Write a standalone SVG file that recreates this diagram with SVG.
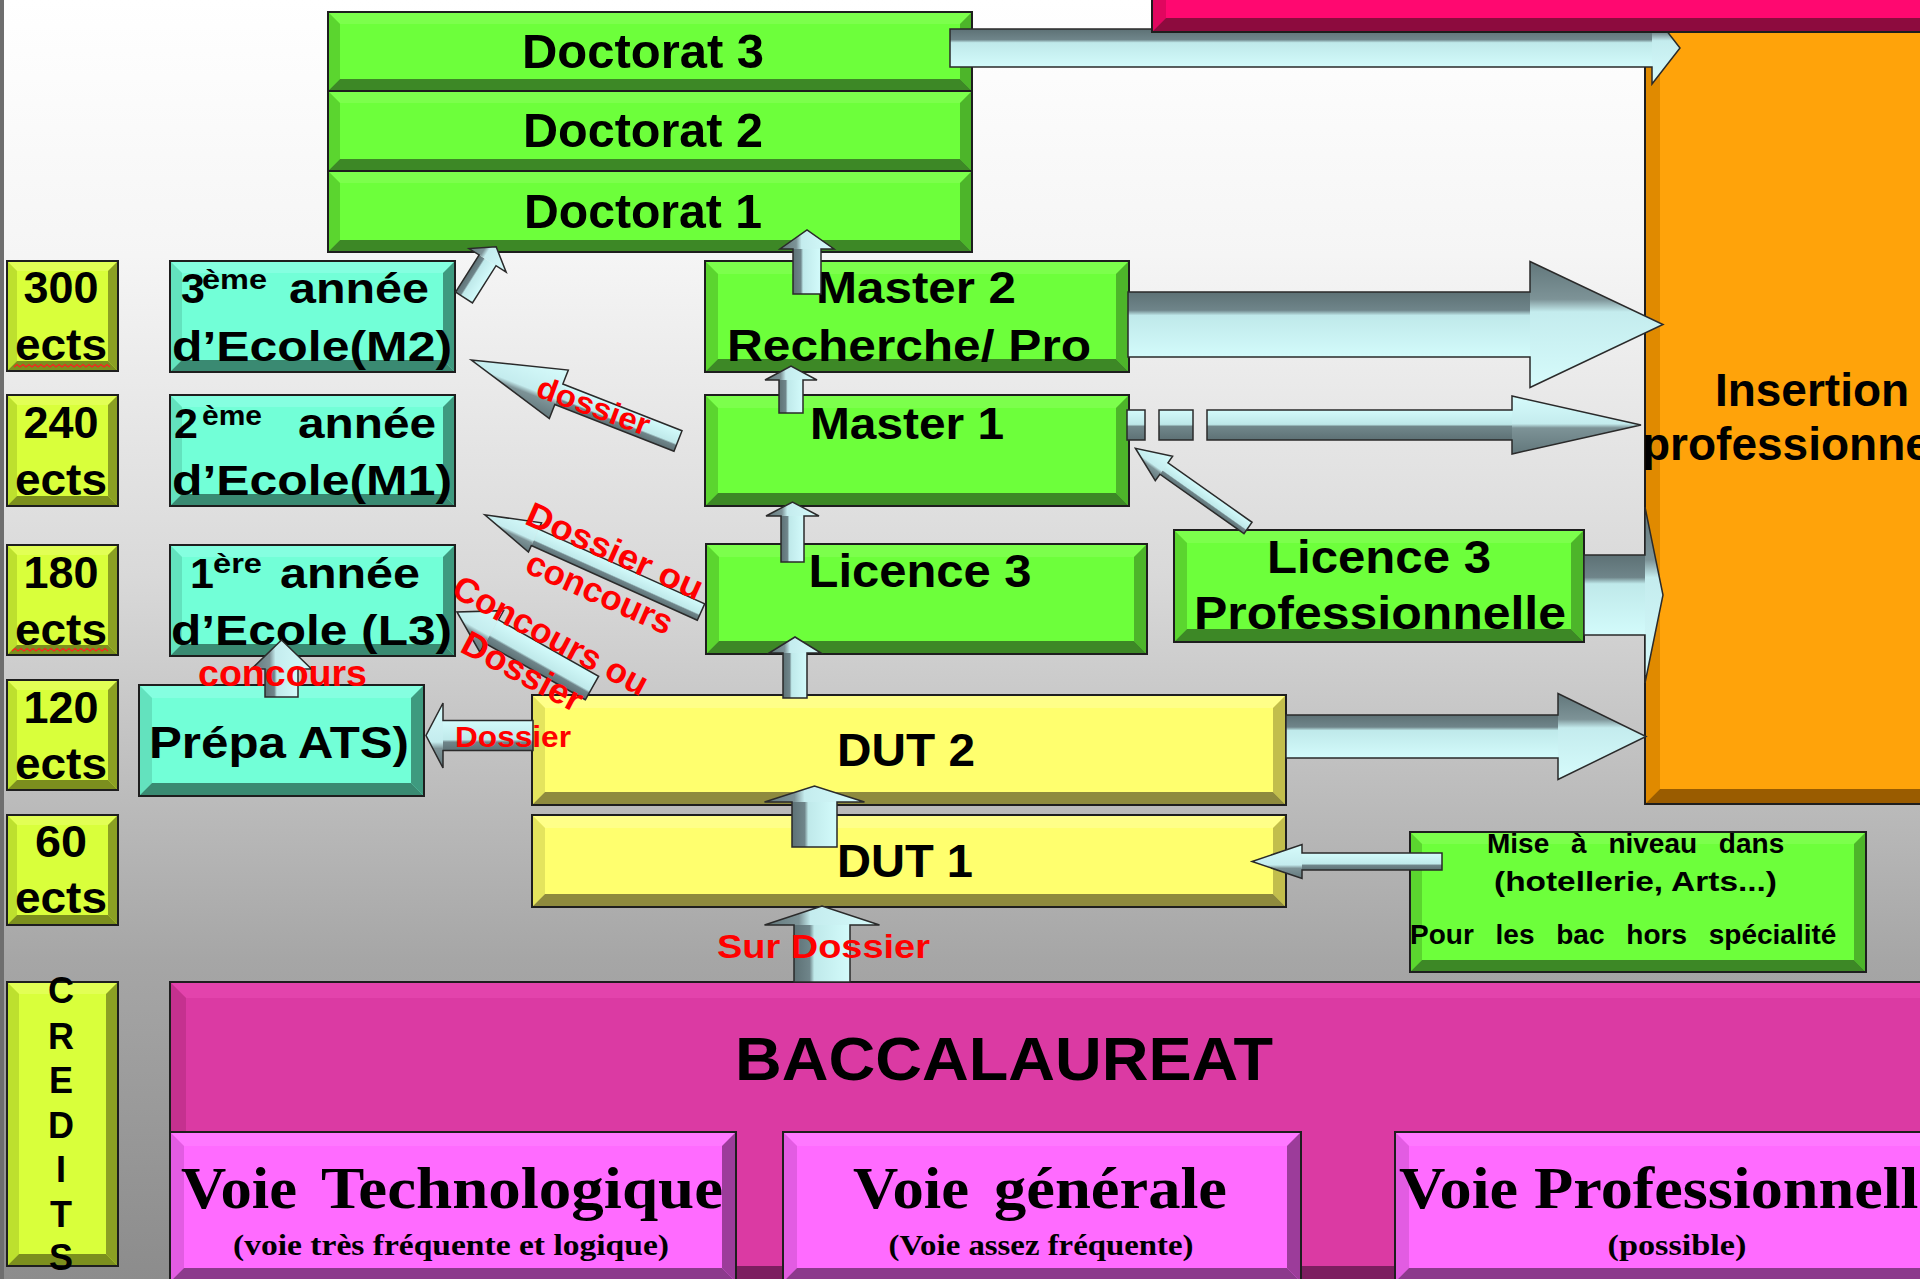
<svg xmlns="http://www.w3.org/2000/svg" width="1920" height="1279" viewBox="0 0 1920 1279">
<defs>
<linearGradient id="bg" x1="0" y1="0" x2="0" y2="1">
<stop offset="0" stop-color="#ffffff"/><stop offset="0.2" stop-color="#f5f5f5"/><stop offset="0.45" stop-color="#d9d9d9"/><stop offset="0.75" stop-color="#a6a6a6"/><stop offset="1" stop-color="#8c8c8c"/>
</linearGradient>
<linearGradient id="gB" x1="0" y1="0" x2="0" y2="1">
<stop offset="0" stop-color="#5d7175"/><stop offset="0.28" stop-color="#6f858a"/><stop offset="0.36" stop-color="#bfe9ea"/><stop offset="1" stop-color="#d3fbfb"/>
</linearGradient>
<linearGradient id="gH" x1="0" y1="0" x2="0" y2="1">
<stop offset="0" stop-color="#62777b"/><stop offset="0.3" stop-color="#7d9397"/><stop offset="0.4" stop-color="#c4ecee"/><stop offset="1" stop-color="#d6fbfb"/>
</linearGradient>
<linearGradient id="gBF" x1="0" y1="0" x2="0" y2="1">
<stop offset="0" stop-color="#d3fbfb"/><stop offset="0.48" stop-color="#bde7e8"/><stop offset="0.55" stop-color="#71878b"/><stop offset="1" stop-color="#5d7175"/>
</linearGradient>
<linearGradient id="gHF" x1="0" y1="0" x2="0" y2="1">
<stop offset="0" stop-color="#d6fbfb"/><stop offset="0.48" stop-color="#c4ecee"/><stop offset="0.55" stop-color="#7d9397"/><stop offset="1" stop-color="#62777b"/>
</linearGradient>
<style>
.f{font-family:'Liberation Sans',Arial,sans-serif;font-weight:bold;fill:#000}
.ser{font-family:'Liberation Serif','Times New Roman',serif;font-weight:bold;fill:#000}
.m{text-anchor:middle}
.red{fill:#ff0000}
.ol{fill:none;stroke:#1e1e1e;stroke-width:2}
.ao{fill:none;stroke:#2a2a2a;stroke-width:1.5}
.sq{stroke:#2a2a2a;stroke-width:1.5}
.gF{fill:#6dff3b}.gT{fill:#7cff4c}.gL{fill:#5bd52f}.gR{fill:#4db52a}.gBo{fill:#3d8826}
.yF{fill:#ffff6e}.yT{fill:#ffff88}.yL{fill:#e4e45e}.yR{fill:#c2be4c}.yB{fill:#8e8a3e}
.eF{fill:#d9ff3b}.eT{fill:#e2ff55}.eL{fill:#bde02e}.eR{fill:#8ba023}.eB{fill:#7c8f1e}
.cF{fill:#72ffd7}.cT{fill:#85ffe0}.cL{fill:#63e2be}.cR{fill:#3e9a7f}.cB{fill:#3a8a72}
.bF{fill:#db3aa3}.bT{fill:#e343ac}.bL{fill:#c5318f}.bB{fill:#7d1e60}
.pF{fill:#ff6bff}.pT{fill:#ff78ff}.pL{fill:#e25ce2}.pR{fill:#9c3c9a}.pB{fill:#8c3a8c}
.oF{fill:#ffa30a}.oL{fill:#e08a00}.oR{fill:#c07800}.oB{fill:#9a5c00}
.mF{fill:#ff0870}.mL{fill:#e0065f}.mR{fill:#b00550}.mB{fill:#8d0b3e}
</style>
</defs>

<rect x="0" y="0" width="1920" height="1279" fill="url(#bg)"/>
<rect x="0" y="0" width="4" height="1279" fill="#6e6e6e"/>

<g id="insertion">
<rect class="oF" x="1645" y="32" width="300" height="772"/>
<polygon class="oL" points="1645,32 1660,47 1660,789 1645,804"/>
<polygon class="oR" points="1945,32 1945,804 1930,789 1930,47"/>
<polygon class="oB" points="1645,804 1945,804 1930,789 1660,789"/>
<rect class="ol" x="1645" y="32" width="300" height="772"/>
</g>

<g id="doctorat3">
<rect class="gF" x="328" y="12" width="644" height="79"/>
<polygon class="gT" points="328,12 972,12 960,24 340,24"/>
<polygon class="gL" points="328,12 340,24 340,79 328,91"/>
<polygon class="gR" points="972,12 972,91 960,79 960,24"/>
<polygon class="gBo" points="328,91 972,91 960,79 340,79"/>
<rect class="ol" x="328" y="12" width="644" height="79"/>
<text class="f m" x="643" y="68" font-size="48" textLength="242" lengthAdjust="spacingAndGlyphs">Doctorat 3</text>
</g>
<g id="doctorat2">
<rect class="gF" x="328" y="91" width="644" height="80"/>
<polygon class="gT" points="328,91 972,91 960,103 340,103"/>
<polygon class="gL" points="328,91 340,103 340,159 328,171"/>
<polygon class="gR" points="972,91 972,171 960,159 960,103"/>
<polygon class="gBo" points="328,171 972,171 960,159 340,159"/>
<rect class="ol" x="328" y="91" width="644" height="80"/>
<text class="f m" x="643" y="147" font-size="48" textLength="240" lengthAdjust="spacingAndGlyphs">Doctorat 2</text>
</g>
<g id="doctorat1">
<rect class="gF" x="328" y="171" width="644" height="81"/>
<polygon class="gT" points="328,171 972,171 960,183 340,183"/>
<polygon class="gL" points="328,171 340,183 340,240 328,252"/>
<polygon class="gR" points="972,171 972,252 960,240 960,183"/>
<polygon class="gBo" points="328,252 972,252 960,240 340,240"/>
<rect class="ol" x="328" y="171" width="644" height="81"/>
<text class="f m" x="643" y="228" font-size="48" textLength="238" lengthAdjust="spacingAndGlyphs">Doctorat 1</text>
</g>

<g id="ects300">
<rect class="eF" x="7" y="261" width="111" height="110"/>
<polygon class="eT" points="7,261 118,261 108,271 17,271"/>
<polygon class="eL" points="7,261 17,271 17,361 7,371"/>
<polygon class="eR" points="118,261 118,371 108,361 108,271"/>
<polygon class="eB" points="7,371 118,371 108,361 17,361"/>
<rect class="ol" x="7" y="261" width="111" height="110"/>
<text class="f m" x="61" y="303" font-size="44" textLength="75" lengthAdjust="spacingAndGlyphs">300</text>
<text class="f m" x="61" y="360" font-size="44" textLength="92" lengthAdjust="spacingAndGlyphs">ects</text>
<path d="M14,367 l3,-2.5 l3,2.5 l3,-2.5 l3,2.5 l3,-2.5 l3,2.5 l3,-2.5 l3,2.5 l3,-2.5 l3,2.5 l3,-2.5 l3,2.5 l3,-2.5 l3,2.5 l3,-2.5 l3,2.5 l3,-2.5 l3,2.5 l3,-2.5 l3,2.5 l3,-2.5 l3,2.5 l3,-2.5 l3,2.5 l3,-2.5 l3,2.5 l3,-2.5 l3,2.5 l3,-2.5 l3,2.5 l3,-2.5 l3,2.5" fill="none" stroke="#ff2020" stroke-width="1.3"/>
</g>
<g id="ects240">
<rect class="eF" x="7" y="395" width="111" height="111"/>
<polygon class="eT" points="7,395 118,395 108,405 17,405"/>
<polygon class="eL" points="7,395 17,405 17,496 7,506"/>
<polygon class="eR" points="118,395 118,506 108,496 108,405"/>
<polygon class="eB" points="7,506 118,506 108,496 17,496"/>
<rect class="ol" x="7" y="395" width="111" height="111"/>
<text class="f m" x="61" y="438" font-size="44" textLength="75" lengthAdjust="spacingAndGlyphs">240</text>
<text class="f m" x="61" y="495" font-size="44" textLength="92" lengthAdjust="spacingAndGlyphs">ects</text>
</g>
<g id="ects180">
<rect class="eF" x="7" y="545" width="111" height="110"/>
<polygon class="eT" points="7,545 118,545 108,555 17,555"/>
<polygon class="eL" points="7,545 17,555 17,645 7,655"/>
<polygon class="eR" points="118,545 118,655 108,645 108,555"/>
<polygon class="eB" points="7,655 118,655 108,645 17,645"/>
<rect class="ol" x="7" y="545" width="111" height="110"/>
<text class="f m" x="61" y="588" font-size="44" textLength="75" lengthAdjust="spacingAndGlyphs">180</text>
<text class="f m" x="61" y="645" font-size="44" textLength="92" lengthAdjust="spacingAndGlyphs">ects</text>
<path d="M12,651 l3,-2.5 l3,2.5 l3,-2.5 l3,2.5 l3,-2.5 l3,2.5 l3,-2.5 l3,2.5 l3,-2.5 l3,2.5 l3,-2.5 l3,2.5 l3,-2.5 l3,2.5 l3,-2.5 l3,2.5 l3,-2.5 l3,2.5 l3,-2.5 l3,2.5 l3,-2.5 l3,2.5 l3,-2.5 l3,2.5 l3,-2.5 l3,2.5 l3,-2.5 l3,2.5 l3,-2.5 l3,2.5 l3,-2.5 l3,2.5" fill="none" stroke="#ff2020" stroke-width="1.3"/>
</g>
<g id="ects120">
<rect class="eF" x="7" y="680" width="111" height="110"/>
<polygon class="eT" points="7,680 118,680 108,690 17,690"/>
<polygon class="eL" points="7,680 17,690 17,780 7,790"/>
<polygon class="eR" points="118,680 118,790 108,780 108,690"/>
<polygon class="eB" points="7,790 118,790 108,780 17,780"/>
<rect class="ol" x="7" y="680" width="111" height="110"/>
<text class="f m" x="61" y="723" font-size="44" textLength="75" lengthAdjust="spacingAndGlyphs">120</text>
<text class="f m" x="61" y="779" font-size="44" textLength="92" lengthAdjust="spacingAndGlyphs">ects</text>
</g>
<g id="ects60">
<rect class="eF" x="7" y="815" width="111" height="110"/>
<polygon class="eT" points="7,815 118,815 108,825 17,825"/>
<polygon class="eL" points="7,815 17,825 17,915 7,925"/>
<polygon class="eR" points="118,815 118,925 108,915 108,825"/>
<polygon class="eB" points="7,925 118,925 108,915 17,915"/>
<rect class="ol" x="7" y="815" width="111" height="110"/>
<text class="f m" x="61" y="857" font-size="44" textLength="52" lengthAdjust="spacingAndGlyphs">60</text>
<text class="f m" x="61" y="913" font-size="44" textLength="92" lengthAdjust="spacingAndGlyphs">ects</text>
</g>
<g id="credits">
<rect class="eF" x="7" y="982" width="111" height="284"/>
<polygon class="eT" points="7,982 118,982 106,994 19,994"/>
<polygon class="eL" points="7,982 19,994 19,1254 7,1266"/>
<polygon class="eR" points="118,982 118,1266 106,1254 106,994"/>
<polygon class="eB" points="7,1266 118,1266 106,1254 19,1254"/>
<rect class="ol" x="7" y="982" width="111" height="284"/>
<text class="f m" font-size="36"><tspan x="61" y="1003">C</tspan><tspan x="61" y="1049">R</tspan><tspan x="61" y="1093">E</tspan><tspan x="61" y="1138">D</tspan><tspan x="61" y="1182">I</tspan><tspan x="61" y="1227">T</tspan><tspan x="61" y="1270">S</tspan></text>
</g>

<g id="ecoleM2">
<rect class="cF" x="170" y="261" width="285" height="111"/>
<polygon class="cT" points="170,261 455,261 443,273 182,273"/>
<polygon class="cL" points="170,261 182,273 182,360 170,372"/>
<polygon class="cR" points="455,261 455,372 443,360 443,273"/>
<polygon class="cB" points="170,372 455,372 443,360 182,360"/>
<rect class="ol" x="170" y="261" width="285" height="111"/>
<text class="f" font-size="43" y="303"><tspan x="181">3</tspan><tspan x="202" dy="-14" font-size="28" textLength="65" lengthAdjust="spacingAndGlyphs">ème</tspan><tspan x="289" dy="14" textLength="140" lengthAdjust="spacingAndGlyphs">année</tspan></text>
<text class="f" font-size="43" x="172" y="361" textLength="280" lengthAdjust="spacingAndGlyphs">d’Ecole(M2)</text>
</g>
<g id="ecoleM1">
<rect class="cF" x="170" y="395" width="285" height="111"/>
<polygon class="cT" points="170,395 455,395 443,407 182,407"/>
<polygon class="cL" points="170,395 182,407 182,494 170,506"/>
<polygon class="cR" points="455,395 455,506 443,494 443,407"/>
<polygon class="cB" points="170,506 455,506 443,494 182,494"/>
<rect class="ol" x="170" y="395" width="285" height="111"/>
<text class="f" font-size="43" y="438"><tspan x="174">2</tspan><tspan x="202" dy="-13" font-size="28" textLength="60" lengthAdjust="spacingAndGlyphs">ème</tspan><tspan x="298" dy="13" textLength="138" lengthAdjust="spacingAndGlyphs">année</tspan></text>
<text class="f" font-size="43" x="172" y="495" textLength="280" lengthAdjust="spacingAndGlyphs">d’Ecole(M1)</text>
</g>
<g id="ecoleL3">
<rect class="cF" x="170" y="545" width="285" height="111"/>
<polygon class="cT" points="170,545 455,545 443,557 182,557"/>
<polygon class="cL" points="170,545 182,557 182,644 170,656"/>
<polygon class="cR" points="455,545 455,656 443,644 443,557"/>
<polygon class="cB" points="170,656 455,656 443,644 182,644"/>
<rect class="ol" x="170" y="545" width="285" height="111"/>
<text class="f" font-size="43" y="588"><tspan x="190">1</tspan><tspan x="213" dy="-15" font-size="28" textLength="49" lengthAdjust="spacingAndGlyphs">ère</tspan><tspan x="280" dy="15" textLength="140" lengthAdjust="spacingAndGlyphs">année</tspan></text>
<text class="f" font-size="43" x="171" y="645" textLength="281" lengthAdjust="spacingAndGlyphs">d’Ecole (L3)</text>
</g>
<g id="prepa">
<rect class="cF" x="139" y="685" width="285" height="111"/>
<polygon class="cT" points="139,685 424,685 411,698 152,698"/>
<polygon class="cL" points="139,685 152,698 152,783 139,796"/>
<polygon class="cR" points="424,685 424,796 411,783 411,698"/>
<polygon class="cB" points="139,796 424,796 411,783 152,783"/>
<rect class="ol" x="139" y="685" width="285" height="111"/>
<text class="f m" x="279" y="758" font-size="45" textLength="260" lengthAdjust="spacingAndGlyphs">Prépa ATS)</text>
</g>

<g id="master2">
<rect class="gF" x="705" y="261" width="424" height="111"/>
<polygon class="gT" points="705,261 1129,261 1116,274 718,274"/>
<polygon class="gL" points="705,261 718,274 718,359 705,372"/>
<polygon class="gR" points="1129,261 1129,372 1116,359 1116,274"/>
<polygon class="gBo" points="705,372 1129,372 1116,359 718,359"/>
<rect class="ol" x="705" y="261" width="424" height="111"/>
<text class="f m" x="916" y="303" font-size="44" textLength="200" lengthAdjust="spacingAndGlyphs">Master 2</text>
<text class="f m" x="909" y="361" font-size="44" textLength="364" lengthAdjust="spacingAndGlyphs">Recherche/ Pro</text>
</g>
<g id="master1">
<rect class="gF" x="705" y="395" width="424" height="111"/>
<polygon class="gT" points="705,395 1129,395 1116,408 718,408"/>
<polygon class="gL" points="705,395 718,408 718,493 705,506"/>
<polygon class="gR" points="1129,395 1129,506 1116,493 1116,408"/>
<polygon class="gBo" points="705,506 1129,506 1116,493 718,493"/>
<rect class="ol" x="705" y="395" width="424" height="111"/>
<text class="f m" x="907" y="439" font-size="44" textLength="194" lengthAdjust="spacingAndGlyphs">Master 1</text>
</g>
<g id="licence3">
<rect class="gF" x="706" y="544" width="441" height="110"/>
<polygon class="gT" points="706,544 1147,544 1134,557 719,557"/>
<polygon class="gL" points="706,544 719,557 719,641 706,654"/>
<polygon class="gR" points="1147,544 1147,654 1134,641 1134,557"/>
<polygon class="gBo" points="706,654 1147,654 1134,641 719,641"/>
<rect class="ol" x="706" y="544" width="441" height="110"/>
<text class="f m" x="920" y="587" font-size="46" textLength="223" lengthAdjust="spacingAndGlyphs">Licence 3</text>
</g>
<g id="licence3pro">
<rect class="gF" x="1174" y="530" width="410" height="112"/>
<polygon class="gT" points="1174,530 1584,530 1571,543 1187,543"/>
<polygon class="gL" points="1174,530 1187,543 1187,629 1174,642"/>
<polygon class="gR" points="1584,530 1584,642 1571,629 1571,543"/>
<polygon class="gBo" points="1174,642 1584,642 1571,629 1187,629"/>
<rect class="ol" x="1174" y="530" width="410" height="112"/>
<text class="f m" x="1379" y="573" font-size="46" textLength="224" lengthAdjust="spacingAndGlyphs">Licence 3</text>
<text class="f m" x="1380" y="629" font-size="46" textLength="372" lengthAdjust="spacingAndGlyphs">Professionnelle</text>
</g>

<g id="dut2">
<rect class="yF" x="532" y="695" width="754" height="110"/>
<polygon class="yT" points="532,695 1286,695 1273,708 545,708"/>
<polygon class="yL" points="532,695 545,708 545,792 532,805"/>
<polygon class="yR" points="1286,695 1286,805 1273,792 1273,708"/>
<polygon class="yB" points="532,805 1286,805 1273,792 545,792"/>
<rect class="ol" x="532" y="695" width="754" height="110"/>
<text class="f m" x="906" y="766" font-size="46" textLength="138" lengthAdjust="spacingAndGlyphs">DUT 2</text>
</g>
<g id="dut1">
<rect class="yF" x="532" y="815" width="754" height="92"/>
<polygon class="yT" points="532,815 1286,815 1273,828 545,828"/>
<polygon class="yL" points="532,815 545,828 545,894 532,907"/>
<polygon class="yR" points="1286,815 1286,907 1273,894 1273,828"/>
<polygon class="yB" points="532,907 1286,907 1273,894 545,894"/>
<rect class="ol" x="532" y="815" width="754" height="92"/>
<text class="f m" x="905" y="877" font-size="46" textLength="136" lengthAdjust="spacingAndGlyphs">DUT 1</text>
</g>

<g id="miseniveau">
<rect class="gF" x="1410" y="832" width="456" height="140"/>
<polygon class="gT" points="1410,832 1866,832 1854,844 1422,844"/>
<polygon class="gL" points="1410,832 1422,844 1422,960 1410,972"/>
<polygon class="gR" points="1866,832 1866,972 1854,960 1854,844"/>
<polygon class="gBo" points="1410,972 1866,972 1854,960 1422,960"/>
<rect class="ol" x="1410" y="832" width="456" height="140"/>
<text class="f" x="1487" y="853" font-size="28" word-spacing="14">Mise à niveau dans</text>
<text class="f" x="1494" y="891" font-size="28" textLength="283" lengthAdjust="spacingAndGlyphs">(hotellerie, Arts...)</text>
<text class="f" x="1410" y="944" font-size="28" word-spacing="14">Pour les bac hors spécialité</text>
</g>

<g id="baccalaureat">
<rect class="bF" x="170" y="982" width="1780" height="300"/>
<polygon class="bT" points="170,982 1950,982 1934,998 186,998"/>
<polygon class="bL" points="170,982 186,998 186,1266 170,1282"/>
<polygon class="bB" points="170,1282 1950,1282 1934,1266 186,1266"/>
<rect class="ol" x="170" y="982" width="1780" height="300"/>
<text class="f m" x="1004" y="1080" font-size="62" textLength="538" lengthAdjust="spacingAndGlyphs">BACCALAUREAT</text>
</g>
<g id="voieTechno">
<rect class="pF" x="170" y="1132" width="566" height="150"/>
<polygon class="pT" points="170,1132 736,1132 722,1146 184,1146"/>
<polygon class="pL" points="170,1132 184,1146 184,1268 170,1282"/>
<polygon class="pR" points="736,1132 736,1282 722,1268 722,1146"/>
<polygon class="pB" points="170,1282 736,1282 722,1268 184,1268"/>
<rect class="ol" x="170" y="1132" width="566" height="150"/>
<text class="ser" y="1208" font-size="60"><tspan x="181" textLength="116" lengthAdjust="spacingAndGlyphs">Voie</tspan><tspan x="321" textLength="402" lengthAdjust="spacingAndGlyphs">Technologique</tspan></text>
<text class="ser" x="233" y="1255" font-size="29" textLength="436" lengthAdjust="spacingAndGlyphs">(voie très fréquente et logique)</text>
</g>
<g id="voieGenerale">
<rect class="pF" x="783" y="1132" width="518" height="150"/>
<polygon class="pT" points="783,1132 1301,1132 1287,1146 797,1146"/>
<polygon class="pL" points="783,1132 797,1146 797,1268 783,1282"/>
<polygon class="pR" points="1301,1132 1301,1282 1287,1268 1287,1146"/>
<polygon class="pB" points="783,1282 1301,1282 1287,1268 797,1268"/>
<rect class="ol" x="783" y="1132" width="518" height="150"/>
<text class="ser" y="1208" font-size="60"><tspan x="853" textLength="116" lengthAdjust="spacingAndGlyphs">Voie</tspan><tspan x="994" textLength="233" lengthAdjust="spacingAndGlyphs">générale</tspan></text>
<text class="ser m" x="1041" y="1255" font-size="29" textLength="305" lengthAdjust="spacingAndGlyphs">(Voie assez fréquente)</text>
</g>
<g id="voiePro">
<rect class="pF" x="1395" y="1132" width="560" height="150"/>
<polygon class="pT" points="1395,1132 1955,1132 1941,1146 1409,1146"/>
<polygon class="pL" points="1395,1132 1409,1146 1409,1268 1395,1282"/>
<polygon class="pB" points="1395,1282 1955,1282 1941,1268 1409,1268"/>
<rect class="ol" x="1395" y="1132" width="560" height="150"/>
<text class="ser" x="1399" y="1208" font-size="60" textLength="548" lengthAdjust="spacingAndGlyphs">Voie Professionnelle</text>
<text class="ser m" x="1677" y="1255" font-size="29" textLength="139" lengthAdjust="spacingAndGlyphs">(possible)</text>
</g>

<g id="connectors">
<g transform="translate(950,48)"><rect x="0" y="-19" width="702" height="38" fill="url(#gB)"/><polygon points="702,-36 730,0 702,36" fill="url(#gH)"/><polygon class="ao" points="0,-19 702,-19 702,-36 730,0 702,36 702,19 0,19"/></g>
<g transform="translate(1128,324.5)"><rect x="0" y="-32.5" width="402" height="65" fill="url(#gB)"/><polygon points="402,-63 535,0 402,63" fill="url(#gH)"/><polygon class="ao" points="0,-32.5 402,-32.5 402,-63 535,0 402,63 402,32.5 0,32.5"/></g>
<rect class="sq" x="1127" y="410" width="18" height="30" fill="url(#gBF)"/>
<rect class="sq" x="1159" y="410" width="34" height="30" fill="url(#gBF)"/>
<g transform="translate(1207,425)"><rect x="0" y="-15" width="305" height="30" fill="url(#gBF)"/><polygon points="305,-29 434,0 305,29" fill="url(#gHF)"/><polygon class="ao" points="0,-15 305,-15 305,-29 434,0 305,29 305,15 0,15"/></g>
<g transform="translate(1584,595)"><rect x="0" y="-40" width="61" height="80" fill="url(#gB)"/><polygon points="61,-88 79,0 61,88" fill="url(#gH)"/><polygon class="ao" points="0,-40 61,-40 61,-88 79,0 61,88 61,40 0,40"/></g>
<g transform="translate(1286,736.5)"><rect x="0" y="-21.5" width="272" height="43" fill="url(#gB)"/><polygon points="272,-43 360,0 272,43" fill="url(#gH)"/><polygon class="ao" points="0,-21.5 272,-21.5 272,-43 360,0 272,43 272,21.5 0,21.5"/></g>
<g transform="translate(1442,861.5) rotate(180)"><rect x="0" y="-8.5" width="140" height="17" fill="url(#gB)"/><polygon points="140,-17 190,0 140,17" fill="url(#gH)"/><polygon class="ao" points="0,-8.5 140,-8.5 140,-17 190,0 140,17 140,8.5 0,8.5"/></g>
<g transform="translate(814.5,847) rotate(-90)"><rect x="0" y="-22.5" width="45" height="45" fill="url(#gB)"/><polygon points="45,-50 61,0 45,50" fill="url(#gH)"/><polygon class="ao" points="0,-22.5 45,-22.5 45,-50 61,0 45,50 45,22.5 0,22.5"/></g>
<g transform="translate(822,982) rotate(-90)"><rect x="0" y="-28" width="57" height="56" fill="url(#gB)"/><polygon points="57,-57.5 76,0 57,57.5" fill="url(#gH)"/><polygon class="ao" points="0,-28 57,-28 57,-57.5 76,0 57,57.5 57,28 0,28"/></g>
<g transform="translate(795,698) rotate(-90)"><rect x="0" y="-12" width="45" height="24" fill="url(#gB)"/><polygon points="45,-26 61,0 45,26" fill="url(#gH)"/><polygon class="ao" points="0,-12 45,-12 45,-26 61,0 45,26 45,12 0,12"/></g>
<g transform="translate(792.5,562) rotate(-90)"><rect x="0" y="-11.5" width="46" height="23" fill="url(#gB)"/><polygon points="46,-26.5 60,0 46,26.5" fill="url(#gH)"/><polygon class="ao" points="0,-11.5 46,-11.5 46,-26.5 60,0 46,26.5 46,11.5 0,11.5"/></g>
<g transform="translate(791,413) rotate(-90)"><rect x="0" y="-12" width="33" height="24" fill="url(#gB)"/><polygon points="33,-26 47,0 33,26" fill="url(#gH)"/><polygon class="ao" points="0,-12 33,-12 33,-26 47,0 33,26 33,12 0,12"/></g>
<g transform="translate(807,294) rotate(-90)"><rect x="0" y="-14" width="45" height="28" fill="url(#gB)"/><polygon points="45,-27 64,0 45,27" fill="url(#gH)"/><polygon class="ao" points="0,-14 45,-14 45,-27 64,0 45,27 45,14 0,14"/></g>
<g transform="translate(281.5,697) rotate(-90)"><rect x="0" y="-16.5" width="28" height="33" fill="url(#gB)"/><polygon points="28,-30 57,0 28,30" fill="url(#gH)"/><polygon class="ao" points="0,-16.5 28,-16.5 28,-30 57,0 28,30 28,16.5 0,16.5"/></g>
<g transform="translate(464,297.5) rotate(-57.6)"><rect x="0" y="-10" width="44" height="20" fill="url(#gB)"/><polygon points="44,-22 60,0 44,22" fill="url(#gH)"/><polygon class="ao" points="0,-10 44,-10 44,-22 60,0 44,22 44,10 0,10"/></g>
<g transform="translate(678,441) rotate(201.4)"><rect x="0" y="-11" width="128" height="22" fill="url(#gB)"/><polygon points="128,-26 222,0 128,26" fill="url(#gH)"/><polygon class="ao" points="0,-11 128,-11 128,-26 222,0 128,26 128,11 0,11"/></g>
<g transform="translate(701,612) rotate(204.2)"><rect x="0" y="-9" width="182" height="18" fill="url(#gB)"/><polygon points="182,-16 237,0 182,16" fill="url(#gH)"/><polygon class="ao" points="0,-9 182,-9 182,-16 237,0 182,16 182,9 0,9"/></g>
<g transform="translate(592,688) rotate(209.4)"><rect x="0" y="-13.5" width="115" height="27" fill="url(#gB)"/><polygon points="115,-24 155,0 115,24" fill="url(#gH)"/><polygon class="ao" points="0,-13.5 115,-13.5 115,-24 155,0 115,24 115,13.5 0,13.5"/></g>
<g transform="translate(533,735.5) rotate(180)"><rect x="0" y="-15" width="90" height="30" fill="url(#gB)"/><polygon points="90,-32.5 107,0 90,32.5" fill="url(#gH)"/><polygon class="ao" points="0,-15 90,-15 90,-32.5 107,0 90,32.5 90,15 0,15"/></g>
<g transform="translate(1248,528) rotate(215.3)"><rect x="0" y="-7" width="103" height="14" fill="url(#gB)"/><polygon points="103,-15 138,0 103,15" fill="url(#gH)"/><polygon class="ao" points="0,-7 103,-7 103,-15 138,0 103,15 103,7 0,7"/></g>
</g>

<g id="topbar">
<rect class="mF" x="1152" y="-20" width="790" height="52"/>
<polygon class="mL" points="1152,-20 1166,-6 1166,18 1152,32"/>
<polygon class="mB" points="1152,32 1942,32 1928,18 1166,18"/>
<rect class="ol" x="1152" y="-20" width="790" height="52"/>
</g>

<g id="insertionText">
<text class="f m" x="1812" y="406" font-size="46">Insertion</text>
<text class="f m" x="1812" y="460" font-size="46">professionnelle</text>
</g>

<g id="labels">
<text class="f red" x="198" y="686" font-size="36" textLength="169" lengthAdjust="spacingAndGlyphs">concours</text>
<text class="f red" x="455" y="747" font-size="29" textLength="116" lengthAdjust="spacingAndGlyphs">Dossier</text>
<text class="f red" x="717" y="958" font-size="33" textLength="213" lengthAdjust="spacingAndGlyphs">Sur Dossier</text>
<g transform="translate(590,416) rotate(20)"><text class="f red m" x="0" y="0" font-size="31" textLength="118" lengthAdjust="spacingAndGlyphs">dossier</text></g>
<g transform="translate(610,562) rotate(24)"><text class="f red m" x="0" y="0" font-size="35" textLength="190" lengthAdjust="spacingAndGlyphs">Dossier ou</text><text class="f red m" x="3" y="44" font-size="35" textLength="157" lengthAdjust="spacingAndGlyphs">concours</text></g>
<g transform="translate(545,646) rotate(28)"><text class="f red m" x="0" y="0" font-size="35" textLength="216" lengthAdjust="spacingAndGlyphs">Concours ou</text><text class="f red m" x="-8" y="45" font-size="35" textLength="132" lengthAdjust="spacingAndGlyphs">Dossier</text></g>
</g>
</svg>
